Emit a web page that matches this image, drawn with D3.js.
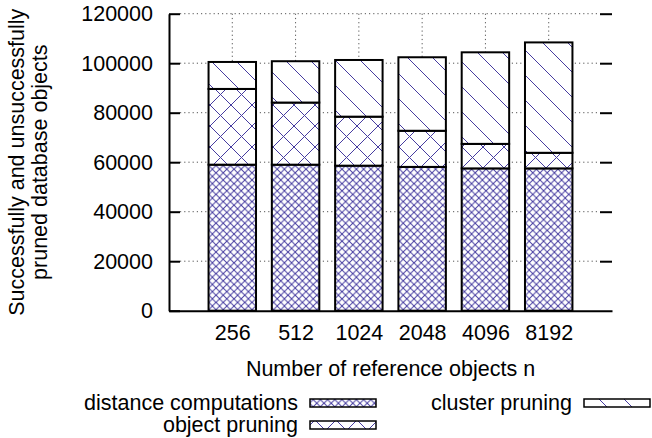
<!DOCTYPE html>
<html>
<head>
<meta charset="utf-8">
<script src="https://cdn.jsdelivr.net/npm/d3@7"></script>
<style>
  body { margin: 0; background: #fff; }
  text { font-family: "Liberation Sans", Arial, Helvetica, sans-serif; fill: #000; }
</style>
</head>
<body>
<div class="canvas"></div>
<script>
// data
const categories = ["256", "512", "1024", "2048", "4096", "8192"];
const distanceComputations = [59000, 59000, 58600, 58100, 57500, 57500];
const objectPruning = [30600, 25100, 19800, 14600, 9900, 6300];
const clusterPruning = [10900, 16700, 22900, 29700, 37000, 44600];
const yTicks = [0, 20000, 40000, 60000, 80000, 100000, 120000];
const seriesNames = ["distance computations", "object pruning", "cluster pruning"];

const W = 652, H = 438;
const plotL = 169, plotR = 612, plotT = 13.7, plotB = 310.7;
const hatch = "#463ca0";
const fs = "21.5px";

const svg = d3.select(".canvas").append("svg").attr("width", W).attr("height", H);

// patterns
const defs = svg.append("defs");
function pattern(id, size, dirs) {
  const p = defs.append("pattern")
    .attr("id", id)
    .attr("patternUnits", "userSpaceOnUse")
    .attr("width", size)
    .attr("height", size);
  p.append("rect").attr("width", size).attr("height", size).attr("fill", "#fff");
  if (dirs.includes("/")) {
    p.append("path").attr("d", `M0,${size} L${size},0 M${-size},${size} L0,0 M${size},${size * 2} L${size * 2},${size}`)
      .attr("stroke", hatch).attr("stroke-width", 1).attr("fill", "none");
  }
  if (dirs.includes("\\")) {
    p.append("path").attr("d", `M0,0 L${size},${size} M${-size},0 L0,${size} M${size},0 L${size * 2},${size}`)
      .attr("stroke", hatch).attr("stroke-width", 1).attr("fill", "none");
  }
}
pattern("pat0", 7.2, "/\\");
pattern("pat1", 21, "/\\");
pattern("pat2", 25, "\\");

const x = d3.scalePoint().domain(categories).range([plotL, plotR]).padding(1);
const y = d3.scaleLinear().domain([0, 120000]).range([plotB, plotT]);
const barW = x.step() * 0.75;

// grid
const grid = svg.append("g").attr("stroke", "#555").attr("stroke-width", 1).attr("stroke-dasharray", "1.2,3");
grid.selectAll(".hg").data(yTicks.filter(d => d > 0)).enter().append("line")
  .attr("x1", plotL + 11).attr("x2", plotR - 12)
  .attr("y1", d => y(d)).attr("y2", d => y(d));
grid.selectAll(".vg").data(categories).enter().append("line")
  .attr("x1", d => x(d)).attr("x2", d => x(d))
  .attr("y1", plotT).attr("y2", plotB);

// stacked bars
const table = categories.map((c, i) => ({
  cat: c,
  d0: distanceComputations[i],
  d1: objectPruning[i],
  d2: clusterPruning[i]
}));
const stacked = d3.stack().keys(["d0", "d1", "d2"])(table);

stacked.forEach((layer, k) => {
  svg.append("g").selectAll("rect").data(layer).enter().append("rect")
    .attr("x", d => x(d.data.cat) - barW / 2)
    .attr("y", d => y(d[1]))
    .attr("width", barW)
    .attr("height", d => y(d[0]) - y(d[1]))
    .attr("fill", `url(#pat${k})`)
    .attr("stroke", "#000")
    .attr("stroke-width", 2);
});

// axes
const yAxis = svg.append("g").attr("transform", `translate(${plotL},0)`)
  .call(d3.axisLeft(y).tickValues(yTicks).tickSize(-11).tickSizeOuter(0).tickPadding(16).tickFormat(d3.format("d")));
yAxis.selectAll("text").style("font-size", fs);
yAxis.selectAll("line").attr("stroke-width", 2);
yAxis.select(".domain").attr("stroke-width", 2);

const yAxisR = svg.append("g").attr("transform", `translate(${plotR},0)`)
  .call(d3.axisRight(y).tickValues(yTicks.filter(d => d > 0)).tickSize(-12).tickFormat(""));
yAxisR.select(".domain").remove();
yAxisR.selectAll("line").attr("stroke-width", 2);

const xAxis = svg.append("g").attr("transform", `translate(0,${plotB})`)
  .call(d3.axisBottom(x).tickSize(0).tickSizeOuter(0).tickPadding(14));
xAxis.selectAll("text").style("font-size", fs);
xAxis.select(".domain").attr("stroke-width", 2);

// axis titles
svg.append("text")
  .attr("x", (plotL + plotR) / 2).attr("y", 376)
  .attr("text-anchor", "middle").style("font-size", fs)
  .text("Number of reference objects n");

const yt = svg.append("text")
  .attr("transform", `translate(24,${(plotT + plotB) / 2}) rotate(-90)`)
  .attr("text-anchor", "middle").style("font-size", fs);
yt.append("tspan").attr("x", 0).attr("y", 0).text("Successfully and unsuccessfully");
yt.append("tspan").attr("x", 0).attr("y", 23).text("pruned database objects");

// legend
const legendItems = [
  { name: seriesNames[0], tx: 298, by: 410, k: 0 },
  { name: seriesNames[1], tx: 298, by: 432, k: 1 },
  { name: seriesNames[2], tx: 572, by: 410, k: 2 }
];
const legend = svg.append("g");
legend.selectAll("text").data(legendItems).enter().append("text")
  .attr("x", d => d.tx).attr("y", d => d.by)
  .attr("text-anchor", "end").style("font-size", fs)
  .text(d => d.name);
legend.selectAll("rect").data(legendItems).enter().append("rect")
  .attr("x", d => d.tx + 12).attr("y", d => d.by - 11)
  .attr("width", 66).attr("height", 8)
  .attr("fill", d => `url(#pat${d.k})`)
  .attr("stroke", "#000").attr("stroke-width", 1.5);
</script>
</body>
</html>
